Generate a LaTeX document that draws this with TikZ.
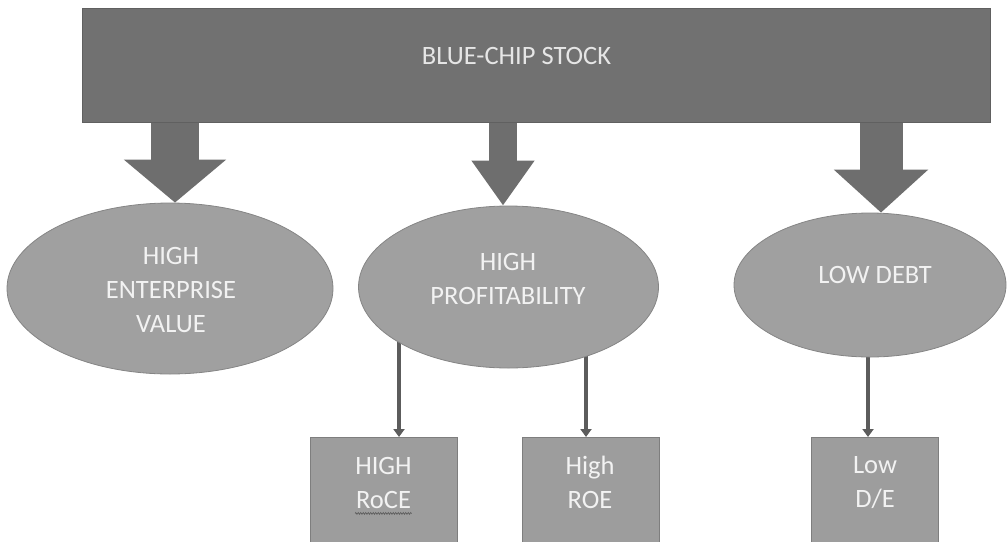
\documentclass[tikz,border=0pt]{standalone}
\usepackage{fontspec}
\setmainfont{Carlito}
\usetikzlibrary{arrows.meta,shapes.geometric,decorations.pathmorphing}
\pgfdeclarelayer{bg}
\pgfsetlayers{bg,main}
\definecolor{topgray}{HTML}{717171}
\definecolor{blockgray}{HTML}{6E6E6E}
\definecolor{ellgray}{HTML}{A0A0A0}
\definecolor{ellline}{HTML}{858585}
\definecolor{boxgray}{HTML}{9D9D9D}
\definecolor{boxline}{HTML}{7E7E7E}
\definecolor{thingray}{HTML}{5C5C5C}
\definecolor{txtcol}{HTML}{F2F2F2}
\definecolor{toptxt}{HTML}{E6E6E6}
\begin{document}
\begin{tikzpicture}[x=1pt,y=-1pt,
  topbox/.style={draw=topgray!85!black, line width=1pt, fill=topgray, inner sep=0pt},
  ellnode/.style={ellipse, draw=ellline, line width=0.8pt, fill=ellgray, inner sep=0pt},
  sqbox/.style={draw=boxline, line width=1pt, fill=boxgray, inner sep=0pt},
  label text/.style={text=txtcol, font=\fontsize{26.5}{34}\selectfont, align=center, inner sep=0pt},
  thinarrow/.style={draw=thingray, line width=3.8pt, -{Triangle[width=11pt,length=8pt]}}
]
\useasboundingbox (0,0) rectangle (1008,541);
\clip (0,0) rectangle (1008,541);

% top bar
\node[topbox, minimum width=908pt, minimum height=114pt] (top) at (536,65) {};
\node[label text, text=toptxt] (toplabel) at (516.5,56) {BLUE-CHIP STOCK};

% bottom boxes
\node[sqbox, minimum width=147pt, minimum height=110pt, anchor=north] (b1) at (383.5,437) {};
\node[sqbox, minimum width=137pt, minimum height=110pt, anchor=north] (b2) at (590.5,437) {};
\node[sqbox, minimum width=127pt, minimum height=110pt, anchor=north] (b3) at (874.5,437) {};

% ellipses
\node[ellnode, minimum width=326pt, minimum height=171pt] (e1) at (170,288.5) {};
\node[ellnode, minimum width=300pt, minimum height=162pt] (e2) at (508.5,287) {};
\node[ellnode, minimum width=272pt, minimum height=144pt] (e3) at (870,285) {};

% thin arrows, starting under the ellipses
\coordinate (a1) at ([xshift=15.5pt]b1.north);
\coordinate (a2) at ([xshift=-4.5pt]b2.north);
\coordinate (a3) at ([xshift=-6.5pt]b3.north);
\begin{pgfonlayer}{bg}
\draw[thinarrow] (e2.center -| a1) -- (a1);
\draw[thinarrow] (e2.center -| a2) -- (a2);
\draw[thinarrow] (e3.center -| a3) -- (a3);
\end{pgfonlayer}

% block arrows
\draw[blockgray, line width=48pt, -{Triangle[width=100pt,length=43pt]}]
  ([xshift=-361pt]top.south) -- ([xshift=5pt]e1.north);
\draw[blockgray, line width=28pt, -{Triangle[width=60pt,length=45pt]}]
  ([xshift=-33pt]top.south) -- ([xshift=-5.5pt]e2.north);
\draw[blockgray, line width=43pt, -{Triangle[width=92pt,length=43pt]}]
  ([xshift=345pt]top.south) -- ([xshift=11pt]e3.north);

% labels in ellipses
\node[label text] (t1) at (171,290) {HIGH\\ENTERPRISE\\VALUE};
\node[label text] (t2) at (508,278.5) {HIGH\\PROFITABILITY};
\node[label text] (t3) at (875,275) {LOW DEBT};

% labels in boxes
\node[label text] (bt1) at (383.5,482.5) {HIGH\\RoCE};
\node[label text] (bt2) at (590,482.5) {High\\ROE};
\node[label text] (bt3) at (875,483) {Low\\D/E};
\draw[gray!70!black, line width=0.6pt, decorate, decoration={zigzag, amplitude=0.9pt, segment length=2.5pt}]
  ([yshift=-5pt]bt1.south west) -- ([yshift=-5pt]bt1.south east);
\end{tikzpicture}
\end{document}
